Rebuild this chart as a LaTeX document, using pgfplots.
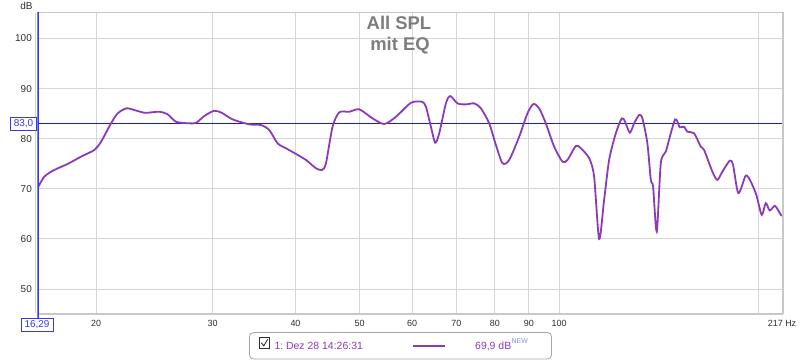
\documentclass[border=0pt]{standalone}
\usepackage{pgfplots}
\pgfplotsset{compat=1.18}
\usepackage{fontspec}
\setmainfont{Liberation Sans}
\frenchspacing
\definecolor{curve}{RGB}{139,59,184}
\definecolor{cursorblue}{RGB}{55,55,240}
\definecolor{hline}{RGB}{20,20,255}
\definecolor{leftbar}{RGB}{125,125,230}
\definecolor{gridc}{RGB}{214,214,214}
\definecolor{framec}{RGB}{200,200,200}
\definecolor{ticktext}{RGB}{45,45,45}
\definecolor{legblue}{RGB}{140,140,235}
\definecolor{titlec}{RGB}{125,125,125}
\begin{document}
\begin{tikzpicture}[x=1bp,y=1bp]
\useasboundingbox (0,0) rectangle (800,360);
\begin{axis}[
  at={(37bp,47bp)}, anchor=south west, scale only axis,
  width=745bp, height=300bp,
  xmode=log, xmin=16.29, xmax=217, ymin=45.2, ymax=105.1,
  xtick={20,30,40,50,60,70,80,90,100,200,217},
  xticklabels={20,30,40,50,60,70,80,90,100,,217 Hz},
  ytick={50,60,70,80,90,100},
  yticklabels={50,60,70,80,90,100},
  grid=major, major grid style={gridc, line width=0.9bp},
  major tick length=0pt,
  axis line style={draw=none},
  /pgf/number format/assume math mode=true,
  xticklabel style={font=\fontsize{9}{10}\selectfont, text=ticktext, inner sep=0pt, anchor=north, yshift=-7bp},
  yticklabel style={font=\fontsize{10}{11}\selectfont, text=ticktext, inner sep=0pt, anchor=east, xshift=-5bp},
]
\addplot[hline, line width=1.4bp, no markers, sharp plot] table[row sep=\\] {x y\\ 16.29 83\\ 217 83\\};
\addplot[color=curve, line width=1.8bp, no markers, smooth, tension=0.45] coordinates {
(16.29,69.9) (16.71,72.43) (17.30,73.76) (18.12,74.96) (18.98,76.41) (19.88,77.75)
(20.35,79.40) (21.07,83.07) (21.56,85.06) (22.22,86.06) (22.85,85.72) (23.65,85.18)
(24.24,85.26) (24.92,85.38) (25.62,84.92) (26.41,83.39) (27.66,83.07) (28.33,83.19)
(29.13,84.52) (30.16,85.58) (31.01,85.12) (32.14,83.86) (34.06,82.87) (35.47,82.73)
(36.52,81.73) (37.59,79.08) (38.70,78.09) (40.07,76.95) (41.48,75.76) (42.95,74.10)
(43.86,73.76) (44.47,75.10) (45.50,82.39) (46.57,85.26) (48.22,85.38) (49.93,85.86)
(52.29,84.06) (54.45,82.93) (56.71,84.38) (59.76,87.17) (62.08,87.37) (62.95,86.37)
(64.04,82.39) (65.01,79.20) (65.92,81.08) (67.47,87.05) (68.49,88.51) (70.25,87.05)
(72.32,86.85) (74.45,87.05) (76.20,86.06) (78.43,83.07) (80.27,78.75) (82.14,75.10)
(84.07,75.76) (87.04,80.40) (89.58,85.06) (91.46,86.91) (93.29,86.06) (95.48,83.07)
(98.29,78.41) (101.16,75.42) (102.93,75.76) (105.98,78.55) (107.83,78.09) (111.0,76.10)
(112.93,72.43) (114.92,60.0) (116.93,67.79) (118.98,75.76) (121.78,81.08) (124.33,84.06)
(125.77,83.39) (127.85,81.20) (129.78,83.07) (132.04,84.72) (133.57,84.06) (135.90,79.08)
(137.53,71.77) (138.61,70.44) (140.41,61.47) (142.39,75.10) (144.89,77.41) (147.41,81.08)
(149.64,83.86) (150.85,83.39) (152.10,82.27) (154.40,82.39) (156.19,81.39) (159.86,81.08)
(163.62,78.41) (165.52,77.75) (170.35,73.43) (173.33,71.77) (176.39,73.43) (180.96,75.62)
(183.05,74.76) (186.46,69.12) (191.32,72.63) (194.67,71.43) (198.49,68.78) (202.22,64.80)
(205.08,67.13) (207.94,65.66) (211.81,66.59) (216.06,64.80) (217,64.6)
};
\end{axis}
% frame
\draw[framec, line width=1bp] (37,347) -- (782,347);
\draw[framec, line width=2.5bp] (37,45.8) -- (783.2,45.8);
\draw[framec, line width=2.5bp] (783.2,45.8) -- (783.2,347.5);
\draw[framec!70, line width=1bp] (35.3,47) -- (35.3,347);
\draw[leftbar, line width=2.6bp] (37.8,42) -- (37.8,347.5);
\draw[cursorblue, line width=0.6bp] (37.8,42) -- (37.8,347.5);
% cursor boxes
\node[draw=cursorblue, fill=white, text=cursorblue, font=\fontsize{10}{11}\selectfont, inner sep=0pt,
      minimum width=26bp, minimum height=13.5bp, line width=0.8bp] at (23.5,236.2) {83,0};
\node[draw=cursorblue, fill=white, text=cursorblue, font=\fontsize{10}{11}\selectfont, inner sep=0pt,
      minimum width=32bp, minimum height=13.5bp, line width=0.8bp] at (37,35.2) {16,29};
% dB label
\node[font=\fontsize{10}{11}\selectfont, text=ticktext, anchor=base] at (26.5,351) {dB};
% title
\node[font=\bfseries\fontsize{18.5}{20}\selectfont, text=titlec, anchor=base] at (399,330.7) {All SPL};
\node[font=\bfseries\fontsize{18.5}{20}\selectfont, text=titlec, anchor=base] at (400,309.3) {mit EQ};
% legend
\draw[gray!70, line width=0.8bp, rounded corners=4bp] (249.5,1) rectangle (551.5,27.5);
\draw[ticktext, line width=0.8bp] (259.3,11.7) rectangle (269.3,22.3);
\draw[ticktext, line width=0.9bp] (261.2,17.2) -- (263.8,14.2) -- (267.6,20.6);
\node[font=\fontsize{10.5}{12}\selectfont, text=curve, anchor=base west, inner sep=0pt] at (274.3,10.8) {1: Dez 28 14:26:31};
\draw[curve, line width=2bp] (413.3,14.3) -- (445,14.3);
\node[font=\fontsize{10.5}{12}\selectfont, text=curve, anchor=base west, inner sep=0pt] at (475,10.8) {69,9 dB};
\node[font=\fontsize{7}{8}\selectfont, text=legblue, anchor=base west, inner sep=0pt] at (511.5,16.3) {NEW};
\end{tikzpicture}
\end{document}
